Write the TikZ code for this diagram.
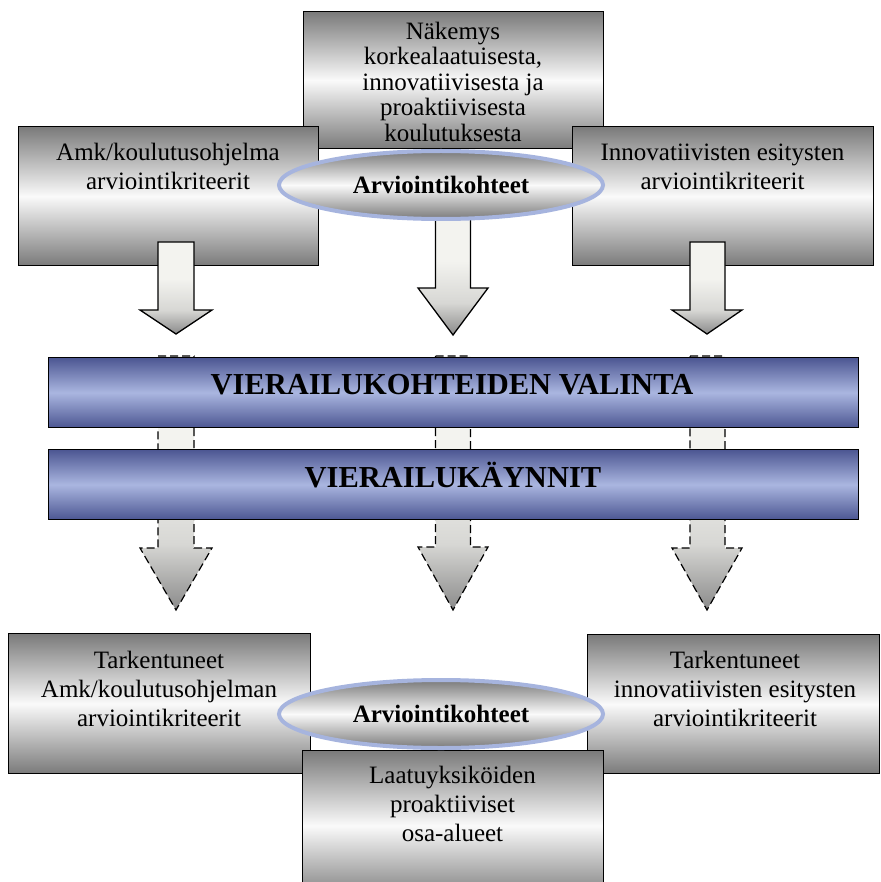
\documentclass[tikz,border=0pt]{standalone}
\usepackage{fontspec}
\setmainfont{Liberation Serif}
\usetikzlibrary{shapes.geometric}
\definecolor{boxgray}{RGB}{122,122,122}
\definecolor{boxlight}{RGB}{250,250,250}
\definecolor{bardark}{RGB}{76,86,146}
\definecolor{barlight}{RGB}{170,182,224}
\definecolor{ellblue}{RGB}{166,180,222}
\definecolor{arrdark}{RGB}{138,138,138}
\definecolor{arrmid}{RGB}{215,215,212}
\definecolor{arrlight}{RGB}{243,243,239}
\pgfdeclareverticalshading{arrowshade}{100bp}{color(0bp)=(arrdark); color(25bp)=(arrdark); color(38bp)=(arrmid); color(55bp)=(arrlight); color(100bp)=(arrlight)}
\begin{document}
\begin{tikzpicture}[x=1pt,y=-1pt,
  box/.style={rectangle, draw=black, line width=1.4pt, top color=boxgray, bottom color=boxgray, middle color=boxlight, inner sep=0pt, anchor=north west},
  bar/.style={rectangle, draw=black, line width=1.2pt, top color=bardark, bottom color=bardark, middle color=barlight, inner sep=0pt, anchor=north west, minimum width=810pt, minimum height=70pt},
  ell/.style={ellipse, draw=ellblue, line width=4pt, top color=boxgray, bottom color=boxgray, middle color=boxlight, inner sep=0pt, minimum width=324pt, minimum height=68pt, font=\fontsize{25}{29}\selectfont\bfseries},
  txt/.style={align=center, inner sep=0pt, anchor=north, font=\fontsize{25}{29}\selectfont},
  bartxt/.style={inner sep=0pt, anchor=base, font=\fontsize{30.5}{34}\selectfont\bfseries},
  solidarrow/.style={draw=black, line width=1.3pt, shading=arrowshade},
  dasharrow/.style={draw=black, line width=1.2pt, dash pattern=on 8pt off 4pt, shading=arrowshade}
]
\useasboundingbox (0,0) rectangle (880,882);
\clip (0,0) rectangle (880,882);

% top boxes
\node[box, minimum width=300pt, minimum height=137pt] (tc) at (303,11) {};
\node[txt, font=\fontsize{25}{25.5}\selectfont] (tct) at (453,15) {\rule{0pt}{24pt}Näkemys\\korkealaatuisesta,\\innovatiivisesta ja\\proaktiivisesta\\koulutuksesta};
\node[box, minimum width=300pt, minimum height=139pt] (tl) at (18,126) {};
\node[txt] (tlt) at (168,136) {\rule{0pt}{24pt}Amk/koulutusohjelma\\arviointikriteerit};
\node[box, minimum width=301pt, minimum height=139pt] (tr) at (572,126) {};
\node[txt] (trt) at (722.5,136) {\rule{0pt}{24pt}Innovatiivisten esitysten\\arviointikriteerit};

% top arrows
\path[solidarrow] (158,242) -- (194,242) -- (194,310) -- (212,310) -- (176,334) -- (140,310) -- (158,310) -- cycle;
\path[solidarrow] (690,242) -- (725,242) -- (725,310) -- (742,310) -- (707,334) -- (672,310) -- (690,310) -- cycle;
\path[solidarrow] (435.5,212) -- (470.5,212) -- (470.5,288) -- (488,288) -- (453,335) -- (418,288) -- (435.5,288) -- cycle;

\node[ell] (e1) at (441,185) {Arviointikohteet};

% dashed arrows
\path[dasharrow] (158,356) -- (194,356) -- (194,548) -- (212,548) -- (176,610) -- (140,548) -- (158,548) -- cycle;
\path[dasharrow] (435.5,356) -- (470.5,356) -- (470.5,547) -- (488,547) -- (453,610) -- (418,547) -- (435.5,547) -- cycle;
\path[dasharrow] (690,356) -- (725,356) -- (725,548) -- (742,548) -- (707,610) -- (672,548) -- (690,548) -- cycle;

% bars
\node[bar] (b1) at (48,357) {};
\node[bartxt] (b1t) at (452,394) {VIERAILUKOHTEIDEN VALINTA};
\node[bar] (b2) at (48,449) {};
\node[bartxt] (b2t) at (453,487) {VIERAILUKÄYNNIT};

% lower boxes
\node[box, minimum width=302pt, minimum height=140pt] (ll) at (8,633) {};
\node[txt] (llt) at (159,644) {\rule{0pt}{24pt}Tarkentuneet\\Amk/koulutusohjelman\\arviointikriteerit};
\node[box, minimum width=292pt, minimum height=139pt] (lr) at (587,634) {};
\node[txt] (lrt) at (735,644) {\rule{0pt}{24pt}Tarkentuneet\\innovatiivisten esitysten\\arviointikriteerit};
\node[box, minimum width=301pt, minimum height=150pt] (bc) at (302,750) {};
\node[txt] (bct) at (452.5,759) {\rule{0pt}{24pt}Laatuyksiköiden\\proaktiiviset\\osa-alueet};

\node[ell] (e2) at (441,714) {Arviointikohteet};
\end{tikzpicture}
\end{document}
